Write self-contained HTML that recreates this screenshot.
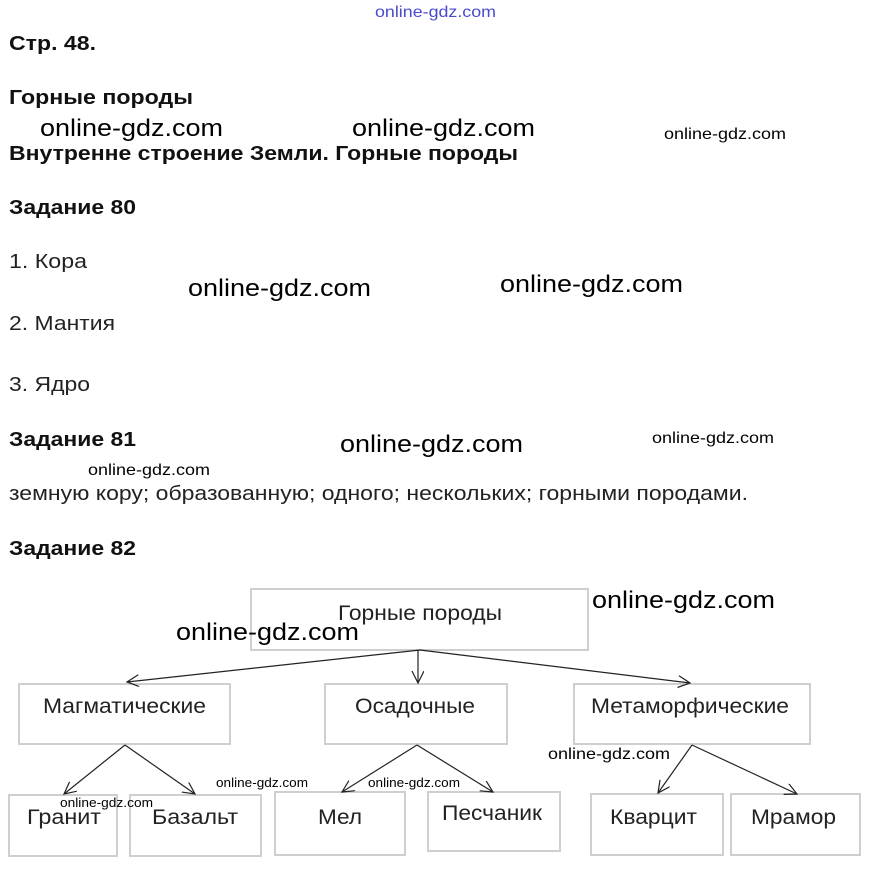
<!DOCTYPE html>
<html><head><meta charset="utf-8"><style>html,body{margin:0;padding:0;background:#fff}svg{display:block}</style></head>
<body>
<svg width="871" height="870" xmlns="http://www.w3.org/2000/svg" font-family="Liberation Sans, sans-serif">
<defs><marker id="a" markerWidth="14" markerHeight="14" refX="12" refY="6" orient="auto" markerUnits="userSpaceOnUse"><path d="M0,0 L12,6 L0,12" fill="none" stroke="#222" stroke-width="1.2"/></marker></defs>
<text x="375" y="17" font-size="16" fill="#4a4ad0" textLength="121" lengthAdjust="spacingAndGlyphs">online-gdz.com</text>
<g font-weight="bold" fill="#111" font-size="20">
<text x="9" y="50" textLength="87" lengthAdjust="spacingAndGlyphs">Стр. 48.</text>
<text x="9" y="104" textLength="184" lengthAdjust="spacingAndGlyphs">Горные породы</text>
<text x="9" y="160" textLength="509" lengthAdjust="spacingAndGlyphs">Внутренне строение Земли. Горные породы</text>
<text x="9" y="214" textLength="127" lengthAdjust="spacingAndGlyphs">Задание 80</text>
<text x="9" y="446" textLength="127" lengthAdjust="spacingAndGlyphs">Задание 81</text>
<text x="9" y="555" textLength="127" lengthAdjust="spacingAndGlyphs">Задание 82</text>
</g>
<g fill="#222" font-size="20">
<text x="9" y="268" textLength="78" lengthAdjust="spacingAndGlyphs">1. Кора</text>
<text x="9" y="330" textLength="106" lengthAdjust="spacingAndGlyphs">2. Мантия</text>
<text x="9" y="391" textLength="81" lengthAdjust="spacingAndGlyphs">3. Ядро</text>
<text x="9" y="500" textLength="739" lengthAdjust="spacingAndGlyphs">земную кору; образованную; одного; нескольких; горными породами.</text>
</g>
<g fill="#fff" stroke="#cfcfcf" stroke-width="2">
<rect x="251" y="589" width="337" height="61"/>
<rect x="19" y="684" width="211" height="60"/>
<rect x="325" y="684" width="182" height="60"/>
<rect x="574" y="684" width="236" height="60"/>
<rect x="9" y="795" width="108" height="61"/>
<rect x="130" y="795" width="131" height="61"/>
<rect x="275" y="792" width="130" height="63"/>
<rect x="428" y="792" width="132" height="59"/>
<rect x="591" y="794" width="132" height="61"/>
<rect x="731" y="794" width="129" height="61"/>
</g>
<g stroke="#222" stroke-width="1.2" fill="none" marker-end="url(#a)">
<line x1="420" y1="650" x2="127" y2="682"/>
<line x1="418" y1="650" x2="418" y2="683"/>
<line x1="420" y1="650" x2="690" y2="683"/>
<line x1="125" y1="745" x2="64" y2="794"/>
<line x1="125" y1="745" x2="195" y2="794"/>
<line x1="417" y1="745" x2="342" y2="792"/>
<line x1="417" y1="745" x2="493" y2="792"/>
<line x1="692" y1="745" x2="658" y2="793"/>
<line x1="692" y1="745" x2="797" y2="794"/>
</g>
<g fill="#222" font-size="21">
<text x="338" y="620" textLength="164" lengthAdjust="spacingAndGlyphs">Горные породы</text>
<text x="43" y="713" textLength="163" lengthAdjust="spacingAndGlyphs">Магматические</text>
<text x="355" y="713" textLength="120" lengthAdjust="spacingAndGlyphs">Осадочные</text>
<text x="591" y="713" textLength="198" lengthAdjust="spacingAndGlyphs">Метаморфические</text>
<text x="27" y="824" textLength="74" lengthAdjust="spacingAndGlyphs">Гранит</text>
<text x="152" y="824" textLength="86" lengthAdjust="spacingAndGlyphs">Базальт</text>
<text x="318" y="824" textLength="44" lengthAdjust="spacingAndGlyphs">Мел</text>
<text x="442" y="820" textLength="100" lengthAdjust="spacingAndGlyphs">Песчаник</text>
<text x="610" y="824" textLength="87" lengthAdjust="spacingAndGlyphs">Кварцит</text>
<text x="751" y="824" textLength="85" lengthAdjust="spacingAndGlyphs">Мрамор</text>
</g>
<g fill="#000" font-size="24">
<text x="40" y="136" textLength="183" lengthAdjust="spacingAndGlyphs">online-gdz.com</text>
<text x="352" y="136" textLength="183" lengthAdjust="spacingAndGlyphs">online-gdz.com</text>
<text x="188" y="296" textLength="183" lengthAdjust="spacingAndGlyphs">online-gdz.com</text>
<text x="500" y="292" textLength="183" lengthAdjust="spacingAndGlyphs">online-gdz.com</text>
<text x="340" y="452" textLength="183" lengthAdjust="spacingAndGlyphs">online-gdz.com</text>
<text x="592" y="608" textLength="183" lengthAdjust="spacingAndGlyphs">online-gdz.com</text>
<text x="176" y="640" textLength="183" lengthAdjust="spacingAndGlyphs">online-gdz.com</text>
</g>
<g fill="#000" font-size="16">
<text x="664" y="139" textLength="122" lengthAdjust="spacingAndGlyphs">online-gdz.com</text>
<text x="652" y="443" textLength="122" lengthAdjust="spacingAndGlyphs">online-gdz.com</text>
<text x="88" y="475" textLength="122" lengthAdjust="spacingAndGlyphs">online-gdz.com</text>
<text x="548" y="759" textLength="122" lengthAdjust="spacingAndGlyphs">online-gdz.com</text>
</g>
<g fill="#000" font-size="13">
<text x="216" y="787" textLength="92" lengthAdjust="spacingAndGlyphs">online-gdz.com</text>
<text x="368" y="787" textLength="92" lengthAdjust="spacingAndGlyphs">online-gdz.com</text>
<text x="60" y="807" textLength="93" lengthAdjust="spacingAndGlyphs">online-gdz.com</text>
</g>
</svg>
</body></html>
